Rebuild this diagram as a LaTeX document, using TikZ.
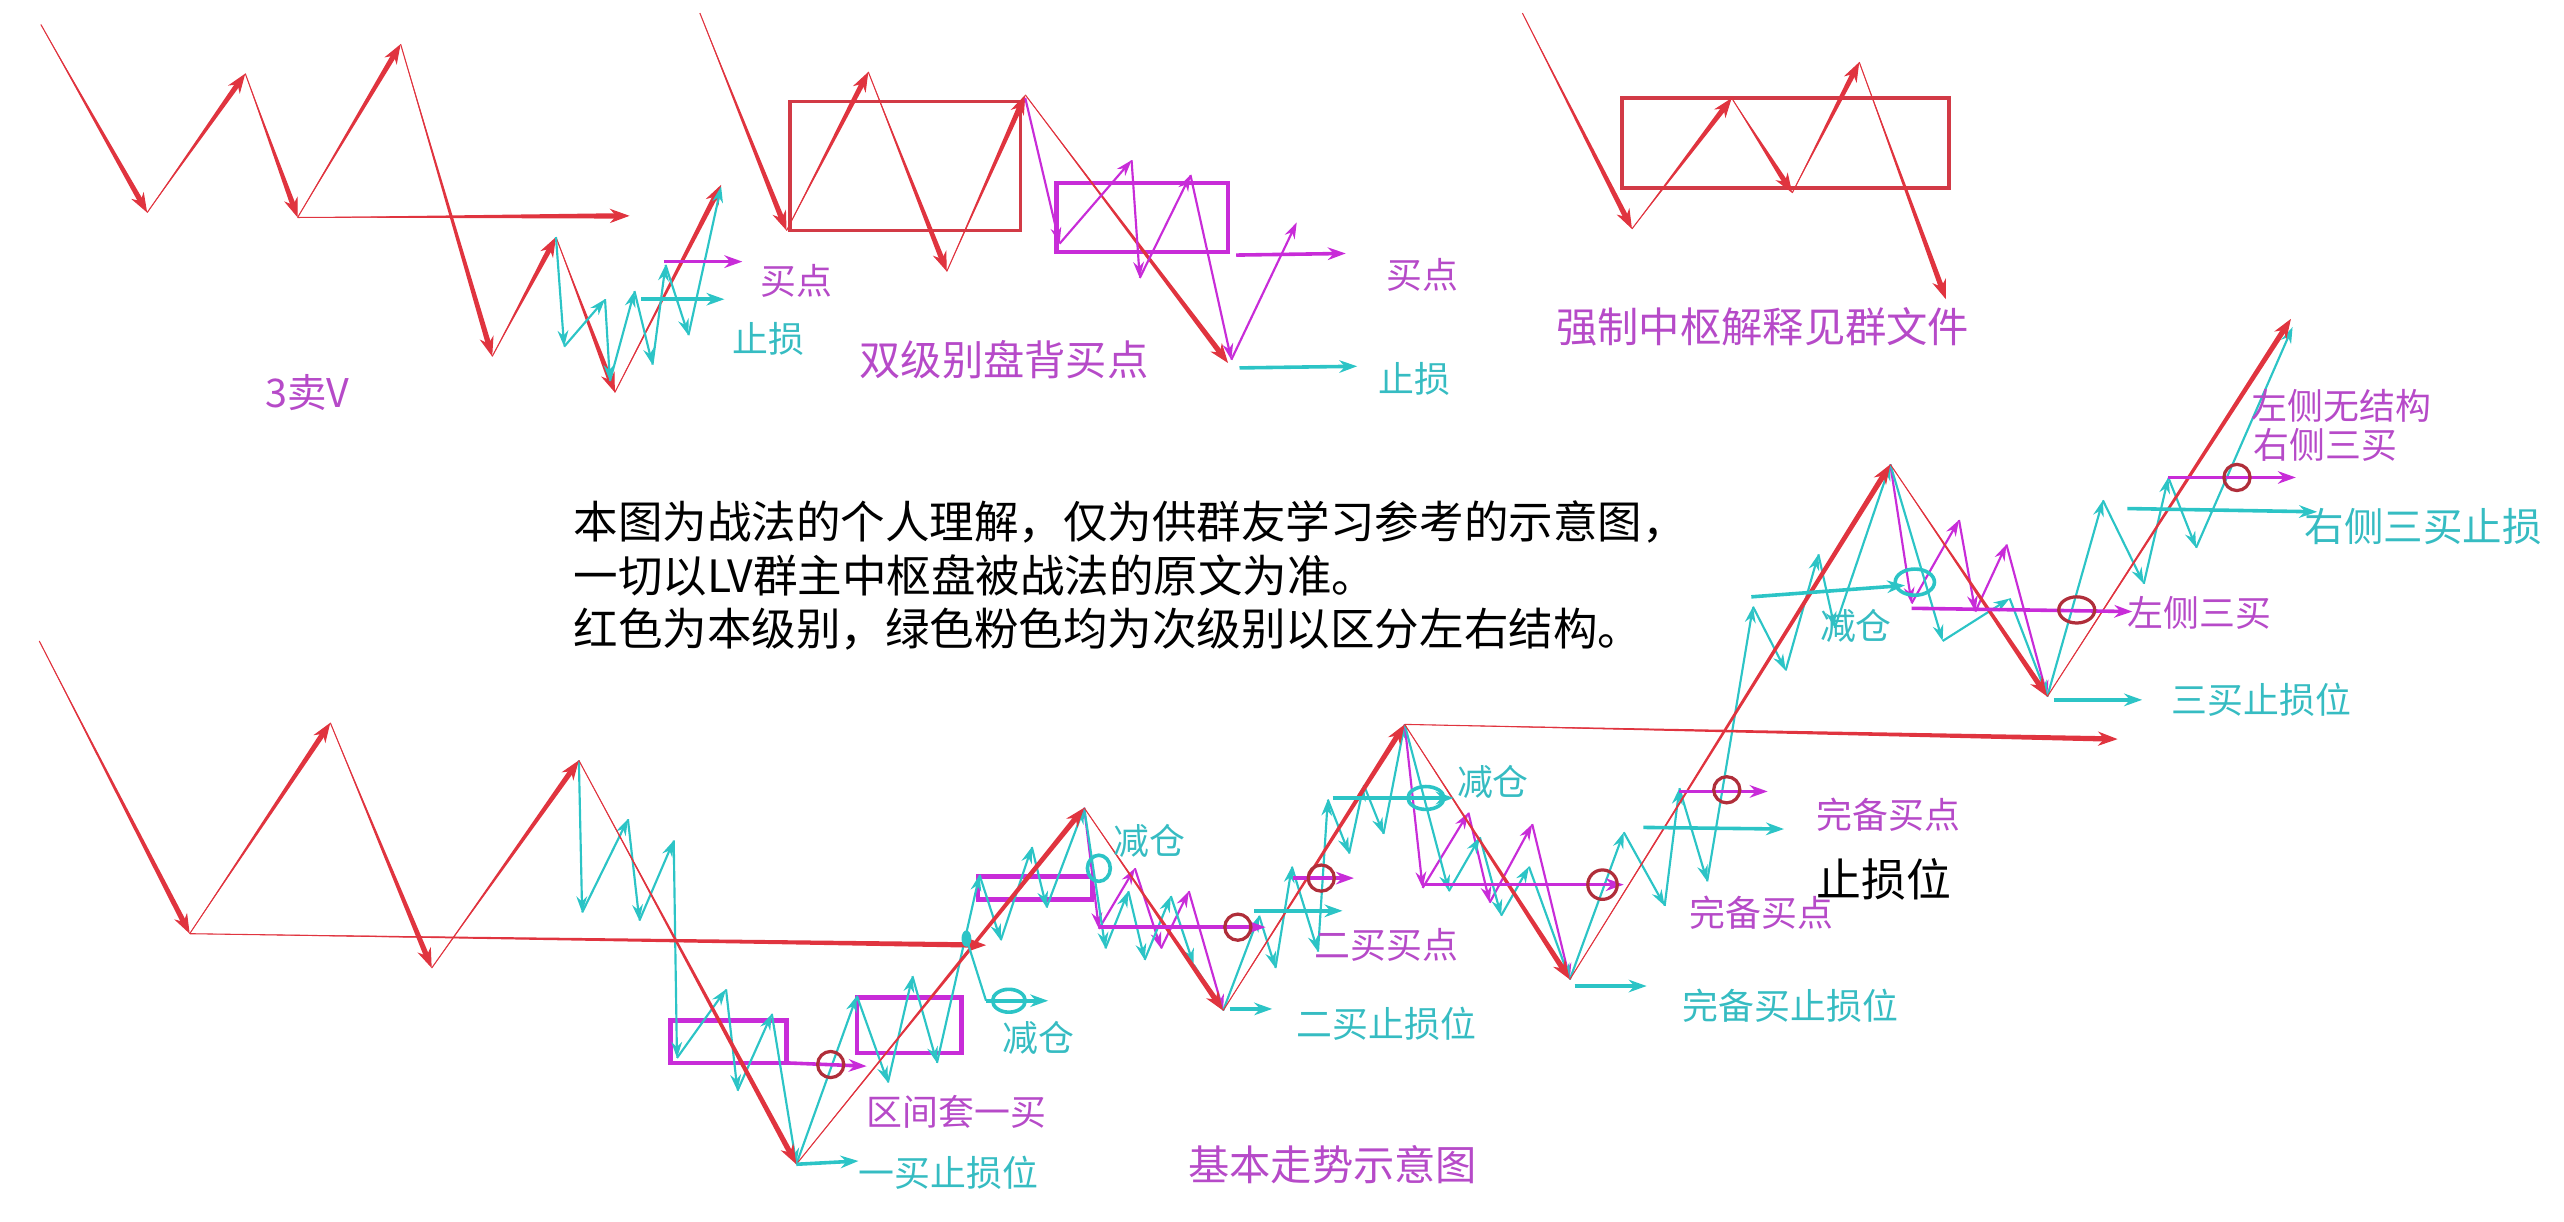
\documentclass[tikz,border=0pt]{standalone}
\usepackage{fontspec}
\newfontfamily\cjk{Noto Sans CJK SC}
\usetikzlibrary{arrows.meta,calc}
\definecolor{trendred}{HTML}{E0343F}
\definecolor{boxred}{HTML}{D23A46}
\definecolor{subcyan}{HTML}{2CC4C6}
\definecolor{submag}{HTML}{C82CD8}
\definecolor{labmag}{HTML}{B64AC8}
\definecolor{labcyan}{HTML}{36BCC2}
\definecolor{ringred}{HTML}{B02E3A}
\tikzset{
	trend/.style={trendred},
	subc/.style={draw=subcyan, line width=0.6pt, -{Stealth[length=4.5pt,width=3pt]}},
	subm/.style={draw=submag, line width=0.6pt, -{Stealth[length=4.5pt,width=3pt]}},
	hbarc/.style={draw=subcyan, line width=1pt, -{Stealth[length=5pt,width=3.5pt]}},
	hbarm/.style={draw=submag, line width=1pt, -{Stealth[length=5pt,width=3.5pt]}},
	zsbox/.style={draw=boxred, line width=1pt},
	msbox/.style={draw=submag, line width=1.2pt},
	ring/.style={draw=ringred, line width=0.9pt},
	cring/.style={draw=subcyan, line width=1pt},
	labm/.style={text=labmag, font=\cjk\fontsize{10}{12}\selectfont},
	labc/.style={text=labcyan, font=\cjk\fontsize{10}{12}\selectfont}
}
% red legs, thin at the start and thick at the arrow
\newcommand{\trendline}[3]{%
	\foreach \x/\y [remember=\x as \lx (initially #1), remember=\y as \ly (initially #2)] in {#3} {
		\coordinate (tw) at ($(\x,\y)!3pt!(\lx,\ly)$);
		\fill[trend] (\lx,\ly) -- ($(tw)!0.75pt!90:(\x,\y)$) -- ($(tw)!0.75pt!-90:(\x,\y)$) -- cycle;
		\draw[trend, line width=0.3pt, -{Stealth[length=5.5pt,width=4pt]}] (\lx,\ly) -- (\x,\y);
	}}
\newcommand{\subline}[4]{%
	\foreach \x/\y [remember=\x as \lx (initially #2), remember=\y as \ly (initially #3)] in {#4} {
		\draw[#1] (\lx,\ly) -- (\x,\y);
	}}

\begin{document}
\begin{tikzpicture}[x=0.016cm,y=-0.016cm]
\useasboundingbox (0,0) rectangle (1568,747);

% 3卖V
\trendline{25}{15}{90/130,150/45,182/133,245/27,301/218,340/145,376/240,441/113}
\trendline{182}{133}{385/132}
\subline{subc}{340}{145}{345/212,370/183,373/233,388/178,399/223,407/162,421/205,441/114}
\draw[hbarm] (406,160) -- (454,160);
\draw[hbarc] (392,183) -- (443,183);
\node[labm] (buyA) at (487,172) {买点};
\node[labc] (stopA) at (470,207) {止损};
\node[labm, font=\cjk\fontsize{11}{13}\selectfont] (sellV) at (188,240) {3卖V};

% 双级别盘背
\draw[zsbox] (483,62) rectangle (624,141);
\draw[msbox] (646,112) rectangle (751,154);
\trendline{428}{8}{481/141,531/44,579/166,627/58,751/222}
\subline{subm}{627}{60}{648/149,692/98,697/170,728/107,753/220,793/136}
\draw[hbarm] (756,156) -- (823,155);
\draw[hbarc] (758,225) -- (830,224);
\node[labm] (buyB) at (870,168) {买点};
\node[labc] (stopB) at (865,232) {止损};
\node[labm, font=\cjk\fontsize{11.5}{13}\selectfont] (double) at (614,220) {双级别盘背买点};

% 强制中枢
\draw[zsbox] (992,60) rectangle (1192,115);
\trendline{931}{8}{998/140,1059/60,1096/118,1137/38,1190/183}
\node[labm, font=\cjk\fontsize{11.5}{13}\selectfont] (forced) at (1078,200) {强制中枢解释见群文件};

\node[anchor=west, align=left, font=\cjk\fontsize{12.4}{14.8}\selectfont] (note) at (343,352)
	{本图为战法的个人理解，仅为供群友学习参考的示意图，\\一切以LV群主中枢盘被战法的原文为准。\\红色为本级别，绿色粉色均为次级别以区分左右结构。};

% 基本走势
\draw[msbox] (410,624) rectangle (481,650);
\draw[msbox] (524,610) rectangle (588,644);
\draw[msbox] (598,536) rectangle (668,550);
\subline{subc}{354}{465}{356/558,384/501,391/563,412/514,414/647,444/605,451/667,472/620,487/712}
\subline{subc}{487}{712}{524/609,543/662,558/597,573/650,599/535,612/575,631/518,640/555,663/494}
\subline{subm}{663}{494}{672/568,694/531,710/580,727/545,748/618}
\subline{subc}{663}{494}{676/580,690/545,700/587,716/548,730/590,748/618}
\subline{subc}{748}{618}{770/560,780/592,790/530,806/582,812/489,825/522,834/480,846/510,859/443}
\subline{subm}{859}{443}{870/543,898/497,911/552,937/504,960/599}
\subline{subc}{859}{443}{886/545,905/512,918/560,935/530,960/599}
\subline{subc}{960}{599}{993/509,1018/554,1027/482,1044/539,1072/371,1092/410,1112/339,1122/384,1156/284}
\subline{subm}{1156}{284}{1169/369,1198/318,1208/374,1227/333,1252/426}
\subline{subc}{1156}{284}{1188/392,1229/366,1252/426}
\subline{subc}{1252}{426}{1286/306,1311/357,1326/292,1343/335,1402/200}
\trendline{24}{392}{116/571,202/442,264/592,354/465,487/712,663/494,748/618,859/443,960/599,1156/284,1252/426,1401/195}
\trendline{116}{571}{603/578}
\trendline{859}{443}{1295/452}

\draw[subcyan, line width=0.6pt] (591,574) -- (603,612);
\fill[subcyan] (591,574) ellipse [x radius=3, y radius=5];
\draw[hbarc] (603,612) -- (641,612);
\draw[cring] (617,612) ellipse [x radius=10, y radius=7];
\draw[cring] (672,531) ellipse [x radius=7, y radius=8];
\draw[hbarm] (481,650) -- (530,652);
\draw[ring] (508,651) circle [radius=8];
\draw[hbarc] (487,712) -- (525,710);
\draw[hbarm] (672,567) -- (774,567);
\draw[ring] (757,567) circle [radius=8];
\draw[hbarc] (767,557) -- (821,557);
\draw[hbarm] (791,537) -- (828,537);
\draw[ring] (808,537) circle [radius=8];
\draw[hbarc] (752,617) -- (778,617);
\draw[hbarc] (815,488) -- (889,488);
\draw[cring] (872,488) ellipse [x radius=11, y radius=7];
\draw[hbarm] (870,541) -- (993,541);
\draw[ring] (980,541) circle [radius=9];
\draw[hbarc] (963,603) -- (1007,603);
\draw[hbarc] (1005,506) -- (1091,507);
\draw[hbarm] (1027,484) -- (1081,484);
\draw[ring] (1056,483) circle [radius=8];
\draw[hbarc] (1071,365) -- (1165,358);
\draw[cring] (1171,356) ellipse [x radius=12, y radius=8];
\draw[hbarm] (1169,372) -- (1304,374);
\draw[ring] (1270,373) ellipse [x radius=11, y radius=8];
\draw[hbarc] (1256,428) -- (1310,428);
\draw[hbarc] (1301,311) -- (1417,313);
\draw[hbarm] (1326,292) -- (1404,292);
\draw[ring] (1368,292) circle [radius=8];

\node[labc] (cutA) at (635,635) {减仓};
\node[labm] (nest) at (585,680) {区间套一买};
\node[labc] (stop1) at (580,717) {一买止损位};
\node[labc] (cutB) at (703,514) {减仓};
\node[labm] (buy2) at (848,578) {二买买点};
\node[labc] (stop2) at (848,626) {二买止损位};
\node[labc] (cutC) at (913,478) {减仓};
\node[labm] (fullA) at (1155,498) {完备买点};
\node[font=\cjk\fontsize{12.5}{14}\selectfont] (stopW) at (1152,538) {止损位};
\node[labm] (fullB) at (1077,558) {完备买点};
\node[labc] (stopF) at (1095,615) {完备买止损位};
\node[labm, font=\cjk\fontsize{11.5}{13}\selectfont] (basic) at (815,712) {基本走势示意图};
\node[labc] (cutD) at (1135,383) {减仓};
\node[labm] (left3) at (1345,375) {左侧三买};
\node[labc] (stop3) at (1383,428) {三买止损位};
\node[labm] (nostruct) at (1432,248) {左侧无结构};
\node[labm] (right3) at (1422,272) {右侧三买};
\node[labc, font=\cjk\fontsize{11}{13}\selectfont] (stopR) at (1482,322) {右侧三买止损};
\end{tikzpicture}
\end{document}
